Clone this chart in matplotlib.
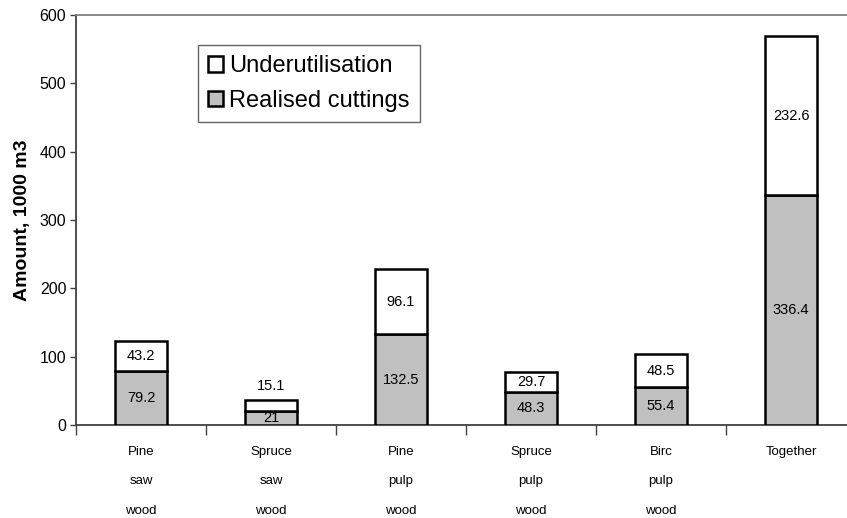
import matplotlib.pyplot as plt
import numpy as np

categories = ["Pine\nsaw\nwood", "Spruce\nsaw\nwood", "Pine\npulp\nwood",
              "Spruce\npulp\nwood", "Birc\npulp\nwood", "Together"]
realised = [79.2, 21, 132.5, 48.3, 55.4, 336.4]
underutil = [43.2, 15.1, 96.1, 29.7, 48.5, 232.6]
realised_lbl = ["79.2", "21", "132.5", "48.3", "55.4", "336.4"]
underutil_lbl = ["43.2", "15.1", "96.1", "29.7", "48.5", "232.6"]

plt.rcParams['font.family'] = ['Liberation Sans', 'DejaVu Sans']

fig = plt.figure(figsize=(8.47, 5.18), dpi=100)
# plot area runs a little past the right edge, as in the original layout
ax = fig.add_axes([76 / 847, (518 - 425) / 518, 780 / 847, 410 / 518])

x = np.arange(len(categories))
w = 0.4
b1 = ax.bar(x, realised, w, color="#c0c0c0", edgecolor="black", linewidth=1.8,
            label="Realised cuttings", zorder=3)
b2 = ax.bar(x, underutil, w, bottom=realised, color="white", edgecolor="black",
            linewidth=1.8, label="Underutilisation", zorder=3)

for i in range(len(x)):
    ax.text(x[i], realised[i] / 2, realised_lbl[i], ha="center", va="center",
            fontsize=10.5, zorder=4)
    top = realised[i] + underutil[i]
    if underutil[i] < 20:
        # too small to hold the label, put it above the bar
        ax.text(x[i], top + 10, underutil_lbl[i], ha="center", va="bottom",
                fontsize=10.5, zorder=4)
    else:
        ax.text(x[i], realised[i] + underutil[i] / 2, underutil_lbl[i],
                ha="center", va="center", fontsize=10.5, zorder=4)

ax.set_xlim(-0.5, len(categories) - 0.5)
ax.set_ylim(0, 600)
ax.set_yticks(range(0, 601, 100))
ax.tick_params(axis="y", direction="out", length=4, width=1, colors="#404040",
               labelcolor="black", labelsize=11.5, pad=3)

# category labels centred on bars, ticks between categories
ax.set_xticks(x)
ax.set_xticklabels(categories, fontsize=9.5, linespacing=2.95, va="top")
ax.tick_params(axis="x", length=0, pad=15)
ax.set_xticks(np.arange(len(categories) + 1) - 0.5, minor=True)
ax.tick_params(axis="x", which="minor", direction="out", length=7, width=1,
               colors="#404040")

ax.spines["right"].set_visible(False)
ax.spines["top"].set_color("#808080")
ax.spines["top"].set_linewidth(1.3)
ax.spines["left"].set_color("#404040")
ax.spines["left"].set_linewidth(1.3)
ax.spines["bottom"].set_color("#404040")
ax.spines["bottom"].set_linewidth(1.3)

ax.set_ylabel("Amount, 1000 m3", fontsize=14, fontweight="bold", labelpad=6)

leg = ax.legend([b2, b1], ["Underutilisation", "Realised cuttings"],
                loc="upper left", bbox_to_anchor=(122 / 780, 1 - 30 / 410),
                borderaxespad=0, fontsize=17, frameon=True, fancybox=False,
                edgecolor="#404040", handlelength=0.65, handleheight=0.65,
                handletextpad=0.25, borderpad=0.42, labelspacing=0.55)
leg.get_frame().set_linewidth(1)

fig.savefig("out.png", dpi=100)
